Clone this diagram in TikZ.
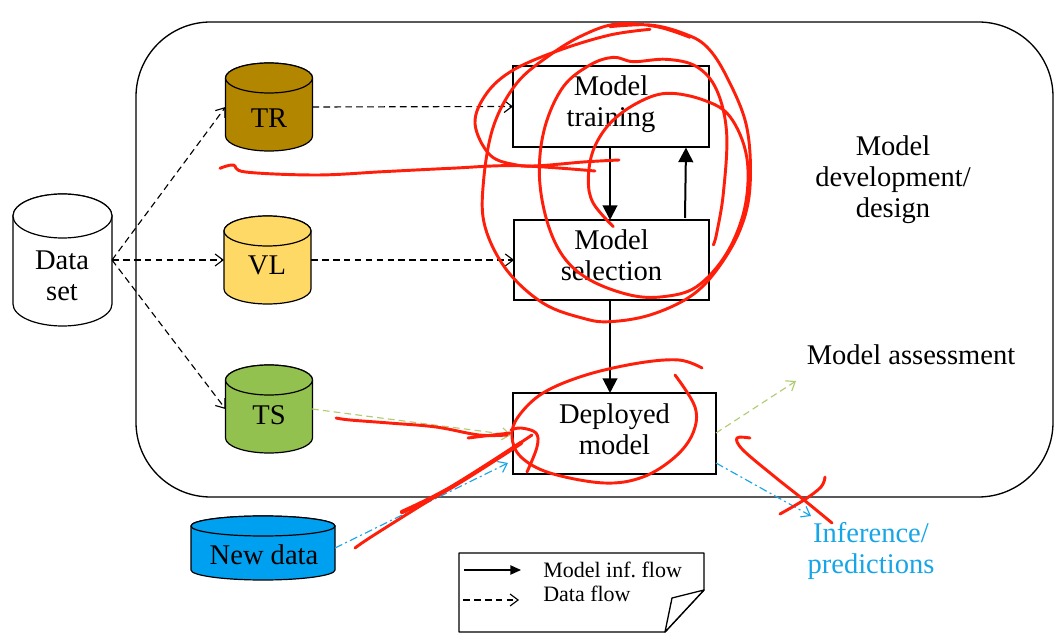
\documentclass[tikz,border=0pt]{standalone}
\usepackage{fontspec}
\setmainfont{Liberation Serif}
\usetikzlibrary{arrows.meta}
\definecolor{scrib}{HTML}{FF1E0A}
\definecolor{trc}{HTML}{B38600}
\definecolor{vlc}{HTML}{FFD966}
\definecolor{tsc}{HTML}{92C14F}
\definecolor{ndc}{HTML}{00A0F0}
\definecolor{infc}{HTML}{16A5E6}
\definecolor{lgreen}{HTML}{B0CC70}
\tikzset{
  x=0.75pt,y=-0.75pt,
  bigfont/.style={font=\fontsize{21.4}{23.2}\selectfont,align=center},
  smallfont/.style={font=\fontsize{16.5}{18}\selectfont,anchor=west,inner sep=0pt},
  freetext/.style={bigfont,inner sep=0pt},
  cylanchor/.style={outer sep=0pt,inner sep=0pt},
  cylline/.style={draw=black,line width=0.9pt},
  boxed/.style={draw=black,line width=1.6pt,outer sep=0pt,inner sep=0pt,bigfont},
  dataflow/.style={line width=0.85pt,dash pattern=on 5pt off 3.2pt,-{Straight Barb[length=6pt,width=9pt,line width=0.85pt]}},
  modelflow/.style={line width=1.5pt,-{Triangle[length=11pt,width=11pt]}},
  ink/.style={draw=scrib,line width=2.2pt,line cap=round,line join=round,smooth,tension=0.6},
}
% name, centre x, centre y, width, height, end radius, fill (pixel units)
\newcommand\cylnode[7]{%
  \path[cylline,fill=#7] (#2-#4/2,#3-#5/2+#6) -- (#2-#4/2,#3+#5/2-#6)
     arc[start angle=180,end angle=360,x radius=0.375pt*#4,y radius=0.75pt*#6]
     -- (#2+#4/2,#3-#5/2+#6)
     arc[start angle=0,end angle=180,x radius=0.375pt*#4,y radius=0.75pt*#6] -- cycle;
  \path[cylline,fill=#7] (#2-#4/2,#3-#5/2+#6)
     arc[start angle=180,end angle=540,x radius=0.375pt*#4,y radius=0.75pt*#6];
  \node[cylanchor,minimum width=0.75pt*#4,minimum height=0.75pt*#5] (#1) at (#2,#3) {};
}
\begin{document}
\begin{tikzpicture}
\useasboundingbox (0,0) rectangle (1058,634);
\fill[white] (0,0) rectangle (1058,634);
% development frame
\draw[line width=1pt,rounded corners=56pt] (136,22) rectangle (1053,497);
% cylinders
\cylnode{ds}{62.5}{260}{99}{132}{22}{white}
\cylnode{tr}{269}{107}{87}{88}{15}{trc}
\cylnode{vl}{267.5}{260}{87}{88}{15}{vlc}
\cylnode{ts}{269}{409}{87}{88}{15}{tsc}
\cylnode{nd}{263}{548}{144}{64}{10}{ndc}
% cylinder labels
\node[freetext] (dstext) at (62,276) {Data\\set};
\node[freetext] (trtext) at (269,118) {TR};
\node[freetext] (vltext) at (267,265) {VL};
\node[freetext] (tstext) at (269,415) {TS};
\node[freetext] (ndtext) at (264,555) {New data};
% process boxes
\node[boxed,minimum width=147pt,minimum height=60.5pt,text depth=8pt] (mt) at (611,106.5) {Model\\training};
\node[boxed,minimum width=146pt,minimum height=60pt,text depth=7pt] (ms) at (611.5,260) {Model\\selection};
\node[boxed,minimum width=152pt,minimum height=60.5pt,text depth=6pt] (dm) at (614.5,433.5) {Deployed\\model};
% free texts
\node[freetext] (dev) at (893,180) {Model\\development/\\design};
\node[freetext] (ass) at (911,355) {Model assessment};
\node[freetext,text=infc] (inf) at (871,551) {Inference/\\predictions};
% coordinates for connectors
\coordinate (mtup) at (686,147.5);
\coordinate (msup) at (685,218);
\coordinate (tsend) at (511,435);
\coordinate (assend) at (796,381);
\coordinate (ndend) at (508,463);
\coordinate (infend) at (811,516);
\coordinate (tsout) at (312,409);
\coordinate (dmup) at (716,433);
\coordinate (dmdown) at (716,463);
% data flow
\draw[dataflow] (ds.east) -- (tr.west);
\draw[dataflow] (ds.east) -- (vl.west);
\draw[dataflow] (ds.east) -- (ts.west);
\draw[dataflow] (tr.east) -- (mt.west);
\draw[dataflow] (vl.east) -- (ms.west);
% coloured flow
\draw[dataflow,draw=lgreen] (tsout) -- (tsend);
\draw[dataflow,draw=lgreen] (dmup) -- (assend);
\draw[dataflow,draw=infc,dash pattern=on 6pt off 2.5pt on 1.5pt off 2.5pt] (nd.east) -- (ndend);
\draw[dataflow,draw=infc,dash pattern=on 6pt off 2.5pt on 1.5pt off 2.5pt] (dmdown) -- (infend);
% model flow
\draw[modelflow] (610,147) -- (610,220);
\draw[modelflow] (msup) -- (mtup);
\draw[modelflow] (610,300) -- (610,393);
% legend
\draw[line width=1pt,fill=white,line join=round] (459,553) -- (704,553) -- (704,590) -- (665,632) -- (459,632) -- cycle;
\draw[line width=1pt,fill=white,line join=round] (704,590) -- (672,598) -- (665,632) -- cycle;
\coordinate (la) at (464,570);
\coordinate (lb) at (521,570);
\coordinate (lc) at (463,600);
\coordinate (ld) at (519,600);
\draw[line width=1pt,-{Triangle[length=8pt,width=7pt]}] (la) -- (lb);
\draw[dataflow] (lc) -- (ld);
\node[smallfont] (l1) at (543,570) {Model inf.\ flow};
\node[smallfont] (l2) at (543,594) {Data flow};
% red annotation, upper
\begin{scope}[x=0.25pt,y=-0.25pt,shift={(1350,0)}]
\draw[ink] plot coordinates {(507,480) (400,486) (270,497) (200,495) (120,465) (75,370) (110,280) (190,210) (330,150) (480,105) (600,88)};
\draw[ink] plot coordinates {(720,112) (620,80) (500,72) (400,105) (300,165) (200,250) (130,380) (100,550) (105,680) (170,810) (280,910) (400,955) (480,965) (600,945) (720,890) (800,810) (870,690) (900,560) (890,380) (830,230) (770,140) (700,100) (600,75) (480,80)};
\draw[ink] plot coordinates {(790,735) (800,700) (820,580) (830,400) (800,270) (740,200) (650,178) (550,185) (490,172) (420,195) (340,260) (285,380) (268,520) (290,660) (340,770) (420,840) (540,885) (640,890) (740,860) (830,760) (885,620) (890,470) (840,350) (760,300) (650,280) (560,310) (480,370) (430,450) (415,540) (430,610) (490,680)};
\draw[ink] plot coordinates {(-690,505) (-650,495) (-613,516) (-400,525) (-200,515) (0,505) (200,497) (435,513)};
\end{scope}
% red annotation, lower
\draw[ink] plot coordinates {(336,418) (350,420) (389,423) (436,427) (479,435) (507,435)};
\draw[ink] plot coordinates {(468,438) (493,435) (510,433)};
\draw[ink] plot coordinates {(702,368) (679,360) (639,363) (586,375) (543,393) (518,417) (512,437) (521,457) (550,473) (604,483) (643,477) (675,457) (693,433) (695,407) (675,375)};
\draw[ink] plot coordinates {(527,472) (537,447) (536,433) (521,428) (511,430)};
\draw[ink] plot coordinates {(355,548) (371,537) (425,503) (479,470) (532,435)};
\draw[ink,line width=3.2pt] plot coordinates {(402,512) (450,488) (521,443)};
\draw[ink] plot coordinates {(750,438) (737,438) (743,450) (775,477) (804,500) (832,523)};
\draw[ink] plot coordinates {(780,514) (804,500) (821,487) (825,477)};
\end{tikzpicture}
\end{document}
